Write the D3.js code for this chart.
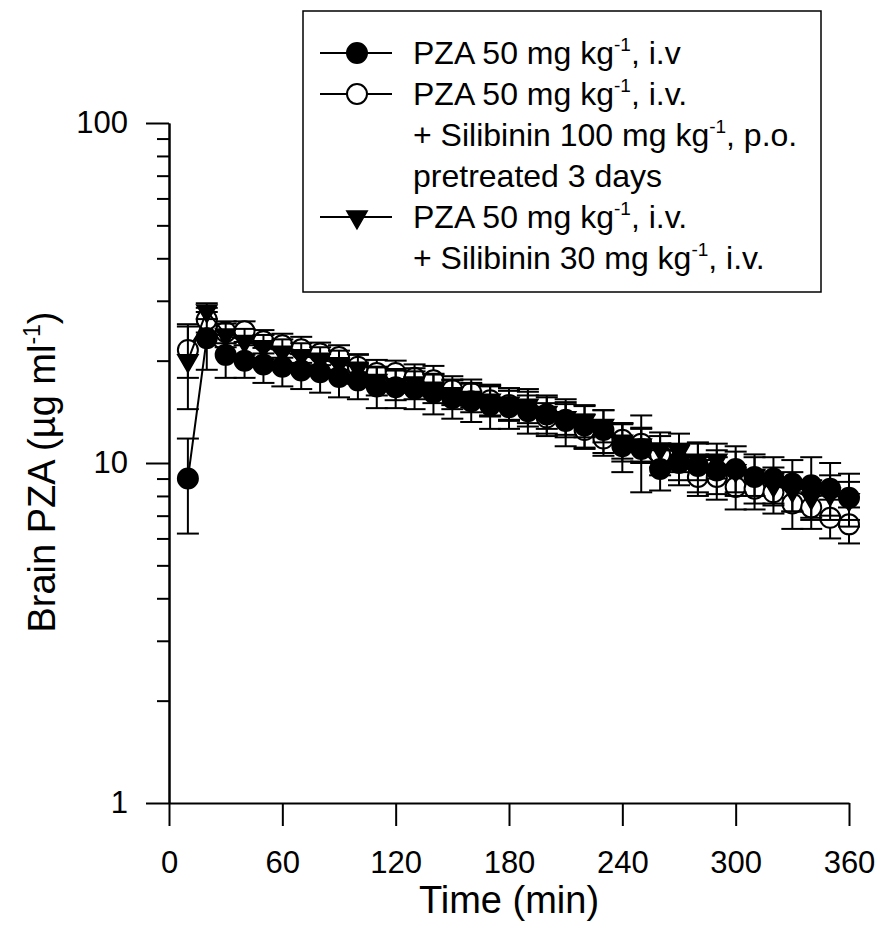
<!DOCTYPE html>
<html>
<head>
<meta charset="utf-8">
<script src="https://cdn.jsdelivr.net/npm/d3@7"></script>
<style>
  body { margin: 0; background: #fff; }
  svg text { font-family: "Liberation Sans", Arial, sans-serif; fill: #000; }
</style>
</head>
<body>
<div id="graph"></div>
<script>
// sampling times (min)
var times = [10,20,30,40,50,60,70,80,90,100,110,120,130,140,150,160,170,180,
             190,200,210,220,230,240,250,260,270,280,290,300,310,320,330,340,350,360]

// PZA 50 mg/kg i.v. alone (filled circles)
var pzaMean = [9.0,23.3,20.8,20.0,19.5,19.2,18.7,18.5,17.9,17.5,16.8,16.7,16.5,16.1,15.5,15.2,14.8,14.6,
               14.2,13.9,13.3,12.9,12.5,11.2,11.0,9.6,10.0,9.8,9.5,9.6,9.1,9.0,8.7,8.6,8.4,7.9]
var pzaSd   = [2.8,4.5,3.0,2.2,2.3,2.4,2.2,2.4,2.3,2.1,2.3,2.2,2.1,2.2,2.0,2.0,2.2,2.0,
               2.0,1.9,2.1,1.9,1.8,1.8,2.8,1.3,1.4,1.6,1.4,1.6,1.5,1.4,1.5,1.8,1.6,1.4]

// + silibinin 100 mg/kg p.o., pretreated 3 days (open circles)
var poMean = [21.5,26.4,24.3,24.4,22.8,22.2,21.6,21.0,20.5,19.2,18.4,18.4,17.8,17.5,16.4,16.1,15.3,14.8,
              14.3,13.6,13.4,12.5,11.8,11.7,11.4,10.6,10.1,9.1,9.1,8.5,8.4,8.2,7.6,7.4,6.9,6.6]
var poSd   = [3.7,2.2,1.8,1.7,1.8,1.8,1.9,1.6,1.7,1.6,1.7,1.6,1.7,1.8,1.6,1.5,1.6,1.5,
              1.5,1.4,1.5,1.4,1.3,1.4,1.3,1.4,1.2,1.1,1.3,1.2,1.1,1.1,1.2,1.0,0.9,0.8]

// + silibinin 30 mg/kg i.v. (filled down triangles)
var ivMean = [20.0,28.0,23.8,22.8,22.0,21.2,20.7,20.2,19.6,19.0,17.5,17.0,17.2,16.6,16.0,15.6,15.3,15.0,
              14.8,14.1,13.6,13.3,12.9,11.6,11.3,11.0,10.8,10.2,10.2,9.5,9.2,8.6,8.3,7.9,8.1,7.8]
var ivSd   = [5.6,1.5,1.9,2.0,1.8,1.9,1.8,1.7,1.8,1.9,1.7,1.7,1.8,1.6,1.6,1.5,1.5,1.6,
              1.7,1.5,1.5,1.4,1.4,1.5,1.3,1.3,1.4,1.3,1.2,1.3,1.2,1.1,1.1,1.0,1.1,1.0]

var xTicks = [0,60,120,180,240,300,360]
var yMajor = [1,10,100]

var W = 884, H = 945

var svg = d3.select('#graph').append('svg')
  .attr('width', W).attr('height', H)

var x = d3.scaleLinear().domain([0, 360]).range([169, 849])
var y = d3.scaleLog().domain([1, 100]).range([803, 123])

// minor log ticks 2..9 per decade
var yMinor = []
;[1, 10].forEach(function(d){ for (var k = 2; k <= 9; k++) yMinor.push(d * k) })

var axisStyle = function(g){
  g.selectAll('path, line').attr('stroke', '#000').attr('stroke-width', 2)
  g.selectAll('text').attr('font-size', 31).attr('fill', '#000')
    .style('font-family', '"Liberation Sans", Arial, sans-serif')
}

svg.append('g')
  .attr('transform', 'translate(169,0)')
  .call(d3.axisLeft(y).tickValues(yMinor).tickSize(12).tickSizeOuter(0).tickFormat(''))
  .call(axisStyle)

svg.append('g')
  .attr('transform', 'translate(169,0)')
  .call(d3.axisLeft(y).tickValues(yMajor).tickSize(23).tickSizeOuter(0).tickPadding(18)
    .tickFormat(d3.format('d')))
  .call(axisStyle)

svg.append('g')
  .attr('transform', 'translate(0,803)')
  .call(d3.axisBottom(x).tickValues(xTicks).tickSize(23).tickSizeOuter(0).tickPadding(25))
  .call(axisStyle)

// axis titles
svg.append('text')
  .attr('x', 509).attr('y', 913)
  .attr('text-anchor', 'middle').attr('font-size', 38)
  .text('Time (min)')

var yt = svg.append('text')
  .attr('transform', 'translate(55,472) rotate(-90)')
  .attr('text-anchor', 'middle').attr('font-size', 38)
yt.append('tspan').text('Brain PZA (µg ml')
yt.append('tspan').attr('font-size', 23).attr('dy', -15).text('-1')
yt.append('tspan').attr('dy', 15).text(')')

// series
var triangle = d3.symbol().type(d3.symbolTriangle).size(180)

var series = [
  {mean: poMean, sd: poSd, shape: 'circle', fill: '#fff'},
  {mean: ivMean, sd: ivSd, shape: 'tri', fill: '#000'},
  {mean: pzaMean, sd: pzaSd, shape: 'circle', fill: '#000'}
]

var line = d3.line().x(function(d){ return x(d.t) }).y(function(d){ return y(d.v) })

function drawMarker(sel, s){
  if (s.shape == 'circle'){
    sel.append('circle').attr('r', 10)
      .attr('fill', s.fill).attr('stroke', '#000').attr('stroke-width', 2)
  } else {
    sel.append('path').attr('d', triangle).attr('transform', 'rotate(180)')
      .attr('fill', s.fill).attr('stroke', '#000').attr('stroke-width', 1.5)
  }
}

series.forEach(function(s){
  var pts = times.map(function(t, i){ return {t: t, v: s.mean[i], sd: s.sd[i]} })
  var g = svg.append('g')

  g.append('path').attr('d', line(pts))
    .attr('fill', 'none').attr('stroke', '#000').attr('stroke-width', 2)

  var eb = g.selectAll('g.eb').data(pts).enter().append('g')
    .attr('stroke', '#000').attr('stroke-width', 2)
  eb.append('line')
    .attr('x1', function(d){ return x(d.t) }).attr('x2', function(d){ return x(d.t) })
    .attr('y1', function(d){ return y(d.v + d.sd) }).attr('y2', function(d){ return y(d.v - d.sd) })
  ;[1, -1].forEach(function(sign){
    eb.append('line')
      .attr('x1', function(d){ return x(d.t) - 11 }).attr('x2', function(d){ return x(d.t) + 11 })
      .attr('y1', function(d){ return y(d.v + sign * d.sd) }).attr('y2', function(d){ return y(d.v + sign * d.sd) })
  })

  var mk = g.selectAll('g.mk').data(pts).enter().append('g')
    .attr('transform', function(d){ return 'translate(' + x(d.t) + ',' + y(d.v) + ')' })
  drawMarker(mk, s)
})

// legend
var legend = svg.append('g')
legend.append('rect')
  .attr('x', 303).attr('y', 11).attr('width', 518).attr('height', 281)
  .attr('fill', '#fff').attr('stroke', '#000').attr('stroke-width', 1.5)

var legendRows = [
  {lines: [['PZA 50 mg kg', '-1', ', i.v']], s: series[2]},
  {lines: [['PZA 50 mg kg', '-1', ', i.v.'], ['+ Silibinin 100 mg kg', '-1', ', p.o.'], ['pretreated 3 days']], s: series[0]},
  {lines: [['PZA 50 mg kg', '-1', ', i.v.'], ['+ Silibinin 30 mg kg', '-1', ', i.v.']], s: series[1]}
]

var row = 0
legendRows.forEach(function(r){
  var cy = 64 + row * 41 - 11
  legend.append('line').attr('x1', 320).attr('x2', 392).attr('y1', cy).attr('y2', cy)
    .attr('stroke', '#000').attr('stroke-width', 2)
  var m = legend.append('g').attr('transform', 'translate(357,' + cy + ')')
  drawMarker(m, r.s)
  r.lines.forEach(function(parts){
    var t = legend.append('text').attr('x', 413).attr('y', 64 + row * 41).attr('font-size', 32)
    t.append('tspan').text(parts[0])
    if (parts[1]){
      t.append('tspan').attr('font-size', 19).attr('dy', -13).text(parts[1])
      t.append('tspan').attr('dy', 13).text(parts[2])
    }
    row++
  })
})
</script>
</body>
</html>
